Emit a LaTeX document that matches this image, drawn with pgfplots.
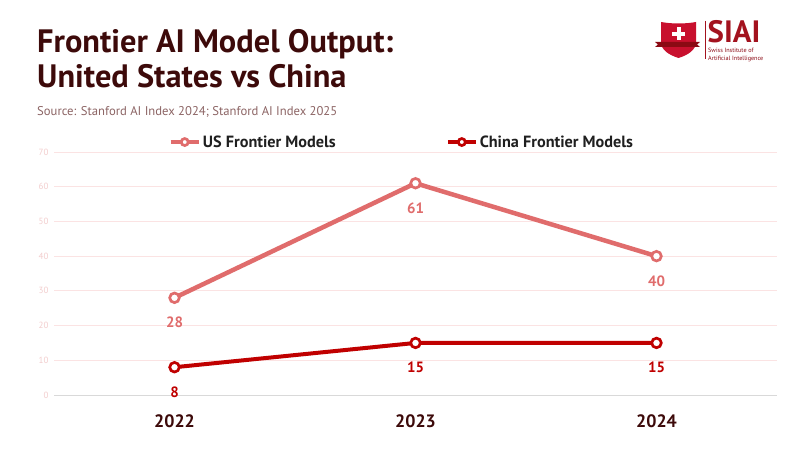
\documentclass[border=0pt]{standalone}
\usepackage{pgfplots}
\pgfplotsset{compat=1.18}
\usepackage{fontspec}
\setmainfont{PT Sans}
\definecolor{usred}{HTML}{E06C6C}
\definecolor{cnred}{HTML}{C00000}
\definecolor{titlec}{HTML}{3D0A0A}
\definecolor{subc}{HTML}{8C6464}
\definecolor{tickc}{HTML}{F3CDCD}
\definecolor{gridc}{HTML}{FBE3E3}
\definecolor{axc}{HTML}{D9D9D9}
\definecolor{legc}{HTML}{1F1F1F}
\definecolor{logored}{HTML}{C8102E}
\definecolor{logodark}{HTML}{8B0A14}
\definecolor{logotext}{HTML}{A3121E}
\begin{document}
\begin{tikzpicture}
\useasboundingbox (0bp,0bp) rectangle (800bp,450bp);
\fill[white] (0bp,0bp) rectangle (800bp,450bp);
% titles
\node[anchor=base west, inner sep=0, font=\fontsize{32.5}{32.5}\selectfont\bfseries, text=titlec] at (37bp,397bp) {Frontier AI Model Output:};
\node[anchor=base west, inner sep=0, font=\fontsize{32.5}{32.5}\selectfont\bfseries, text=titlec] at (37bp,362bp) {United States vs China};
\node[anchor=base west, inner sep=0, font=\fontsize{12.7}{12.7}\selectfont, text=subc] at (37bp,334bp) {Source: Stanford AI Index 2024; Stanford AI Index 2025};
% logo
\fill[logored] (661bp,428bp) .. controls (672bp,426bp) and (685bp,426bp) .. (696bp,428bp) -- (696bp,408bp) .. controls (696bp,400bp) and (688bp,395bp) .. (678.5bp,392bp) .. controls (669bp,395bp) and (661bp,400bp) .. (661bp,408bp) -- cycle;
\fill[logodark] (655bp,403bp) -- (700bp,403bp) -- (697bp,405.5bp) -- (700bp,408bp) -- (655bp,408bp) -- (658bp,405.5bp) -- cycle;
\fill[white] (676.5bp,409.5bp) rectangle (680.5bp,422.5bp);
\fill[white] (672bp,414bp) rectangle (685bp,418bp);
\draw[logotext, line width=1bp] (705bp,429bp) -- (705bp,391bp);
\node[anchor=base west, inner sep=0, font=\fontsize{31}{31}\selectfont\bfseries, text=logotext] at (707.5bp,407bp) {SIAI};
\node[anchor=base west, inner sep=0, font=\fontsize{6.2}{6.2}\selectfont, text=logodark] at (708bp,397bp) {Swiss Institute of};
\node[anchor=base west, inner sep=0, font=\fontsize{6.2}{6.2}\selectfont, text=logodark] at (708bp,389.5bp) {Artificial Intelligence};
\begin{axis}[
  at={(54bp,55bp)}, anchor=south west,
  scale only axis, width=723bp, height=243bp,
  xmin=-0.5, xmax=2.5, ymin=0, ymax=70,
  xtick={0,1,2}, xticklabels={2022,2023,2024},
  ytick={0,10,...,70},
  ymajorgrids, grid style={gridc, line width=0.8bp},
  axis x line*=bottom, axis y line*=left,
  y axis line style={draw=none},
  x axis line style={draw=axc, line width=1bp},
  major tick length=0,
  /pgf/number format/assume math mode=true,
  yticklabel style={font=\fontsize{9}{9}\selectfont, text=tickc, xshift=-2bp},
  xticklabel style={font=\fontsize{18}{18}\selectfont\bfseries, text=titlec, yshift=-16bp},
  clip=false,
  legend columns=2,
  legend style={at={(0.481,1.041)}, anchor=center, draw=none, fill=none,
    font=\fontsize{16.3}{16.3}\selectfont\bfseries, text=legc,
    /tikz/every even column/.append style={column sep=108bp},
    inner sep=0pt},
  legend cell align=left,
  legend image code/.code={\draw[mark repeat=2,mark phase=2,#1, mark size=3.5bp] plot coordinates {(0bp,0bp) (14bp,0bp) (28bp,0bp)};},
  nodes near coords,
  nodes near coords style={anchor=north, yshift=-18bp, inner sep=0pt, font=\fontsize{15}{15}\selectfont\bfseries},
]
\addplot[usred, line width=4.5bp, mark=*, mark size=4.8bp, mark options={fill=white, draw=usred, line width=2.7bp}, nodes near coords style={text=usred}]
  coordinates {(0,28) (1,61) (2,40)};
\addlegendentry{US Frontier Models}
\addplot[cnred, line width=4bp, mark=*, mark size=4.8bp, mark options={fill=white, draw=cnred, line width=2.7bp}, nodes near coords style={text=cnred}]
  coordinates {(0,8) (1,15) (2,15)};
\addlegendentry{China Frontier Models}
\end{axis}
\end{tikzpicture}
\end{document}
